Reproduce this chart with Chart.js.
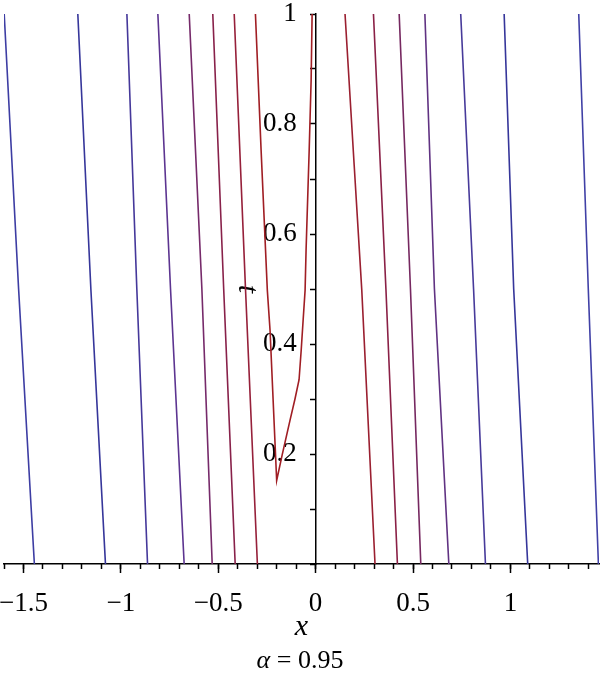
<!DOCTYPE html>
<html>
<head>
<meta charset="utf-8">
<script src="https://cdn.jsdelivr.net/npm/chart.js@4/dist/chart.umd.min.js"></script>
<style>
  body { margin: 0; background: #fff; }
  #wrap { position: relative; width: 600px; height: 678px; }
  #caption {
    position: absolute; left: 0; top: 645px; width: 600px; height: 30px;
    line-height: 30px; text-align: center;
    font-family: 'Liberation Serif', serif; font-size: 26px; color: #000;
  }
</style>
</head>
<body>
<div id="wrap">
  <canvas id="contour"></canvas>
  <div id="caption"><i>α</i> = 0.95</div>
</div>
<script>
// t values where the straight contours were read (top, middle, bottom)
const contourT = [1, 0.5, 0];

// x positions of each contour at t = 1, 0.5, 0
const leftContours = [
    [-1.599, -1.525, -1.444],
    [-1.221, -1.154, -1.079],
    [-0.969, -0.918, -0.863],
    [-0.810, -0.745, -0.675],
    [-0.649, -0.584, -0.531],
    [-0.528, -0.472, -0.413],
    [-0.418, -0.360, -0.299]
];
const rightContours = [
    [0.297, 0.361, 0.420],
    [0.429, 0.487, 0.540],
    [0.561, 0.610, 0.684],
    [0.745, 0.811, 0.872],
    [0.968, 1.017, 1.089],
    [1.351, 1.400, 1.452]
];

// the bent contour just right of the axis
const bentX = [0.151, 0.198, 0.237, 0.305];
const bentT = [1, 0.725, 0.498, 0];

// the V-shaped contour left of the axis
const loopX = [-0.309, -0.280, -0.248, -0.234, -0.200, -0.172, -0.131, -0.106, -0.085, -0.074, -0.064, -0.054, -0.049, -0.033, -0.023, -0.018];
const loopT = [1, 0.753, 0.498, 0.425, 0.152, 0.198, 0.262, 0.300, 0.335, 0.389, 0.444, 0.498, 0.571, 0.753, 0.88, 1];

const xTicks = [-1.5, -1, -0.5, 0, 0.5, 1];
const tTicks = [0.2, 0.4, 0.6, 0.8, 1];

const leftColors = ['#3d3da3', '#36369a', '#45389a', '#5c3490', '#762a6a', '#88214a', '#96203a'];
const rightColors = ['#8a2046', '#762860', '#603282', '#473a9a', '#36369a', '#4040a6'];

function toPoints(xs, ts) {
    return xs.map((x, i) => ({ x: x, y: ts[i] }));
}

function fmt(v) {
    const s = String(Math.round(Math.abs(v) * 10) / 10);
    return v < 0 ? '\u2212' + s : s;
}

function lineSet(points, color) {
    return {
        data: points,
        showLine: true,
        borderColor: color,
        borderWidth: 1.6,
        pointRadius: 0,
        tension: 0
    };
}

const datasets = [];
leftContours.forEach((xs, i) => datasets.push(lineSet(toPoints(xs, contourT), leftColors[i])));
datasets.push(lineSet(toPoints(loopX, loopT), '#a01e24'));
datasets.push(lineSet(toPoints(bentX, bentT), '#9a1f30'));
rightContours.forEach((xs, i) => datasets.push(lineSet(toPoints(xs, contourT), rightColors[i])));

const serif = 'Liberation Serif';

new Chart(document.getElementById('contour'), {
    type: 'scatter',
    data: { datasets: datasets },
    options: {
        responsive: true,
        maintainAspectRatio: false,
        animation: false,
        layout: { padding: { top: 14, left: 4, right: 1, bottom: 31 } },
        plugins: { legend: { display: false }, tooltip: { enabled: false } },
        scales: {
            x: {
                type: 'linear',
                position: 'bottom',
                min: -1.6,
                max: 1.455,
                afterBuildTicks: (s) => { s.ticks = xTicks.map(v => ({ value: v })); },
                afterFit: (s) => { s.height = 83; s.paddingLeft = 0; s.paddingRight = 0; },
                ticks: {
                    autoSkip: false,
                    maxRotation: 0,
                    padding: 15,
                    color: '#000',
                    font: { family: serif, size: 27 },
                    callback: (v) => fmt(v)
                },
                grid: { drawOnChartArea: false, tickLength: 9, tickWidth: 1.5, color: '#000' },
                border: { display: true, color: '#000', width: 1.5 },
                title: {
                    display: true,
                    text: 'x',
                    color: '#000',
                    font: { family: serif, size: 30, style: 'italic' },
                    padding: { top: 0, bottom: 2 }
                }
            },
            xMinor: {
                type: 'linear',
                position: { y: 0 },
                min: -1.6,
                max: 1.455,
                ticks: {
                    stepSize: 0.1,
                    includeBounds: false,
                    display: false,
                    autoSkip: false
                },
                afterBuildTicks: (s) => { s.ticks = s.ticks.filter(t => t.value >= s.min - 1e-9 && t.value <= s.max + 1e-9); },
                grid: { drawOnChartArea: false, tickLength: 5, tickWidth: 1.5, color: '#000' },
                border: { display: false }
            },
            y: {
                type: 'linear',
                position: { x: 0 },
                min: 0,
                max: 1,
                afterFit: (s) => { s.width = 91; s.paddingTop = 0; s.paddingBottom = 0; },
                ticks: {
                    stepSize: 0.1,
                    autoSkip: false,
                    color: '#000',
                    font: { family: serif, size: 27 },
                    // labels sit right against a centred axis, so pad them on the right
                    callback: (v) => tTicks.some(t => Math.abs(t - v) < 1e-6) ? fmt(v) + '\u2002\u2009' : ''
                },
                grid: { drawOnChartArea: false, tickLength: 5, tickWidth: 1.5, color: '#000' },
                border: { display: true, color: '#000', width: 1.5 },
                title: {
                    display: true,
                    text: 't',
                    color: '#000',
                    font: { family: serif, size: 30, style: 'italic' },
                    padding: { top: 0, bottom: 4 }
                }
            }
        }
    }
});
</script>
</body>
</html>
